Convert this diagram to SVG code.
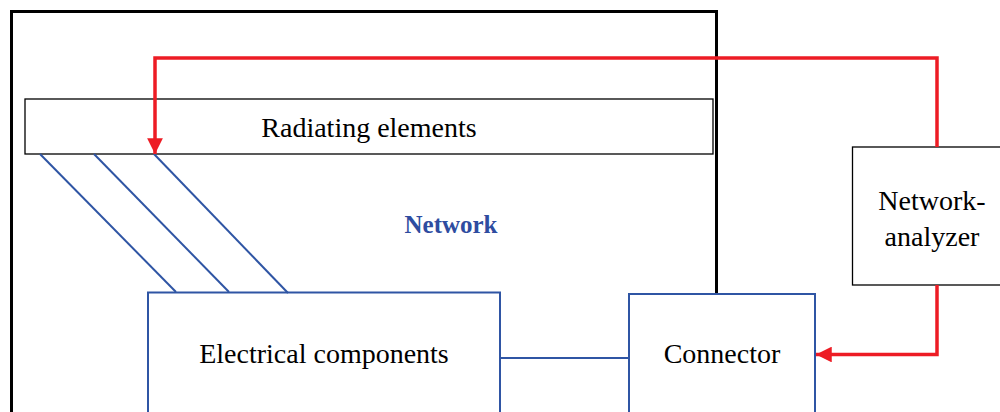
<svg xmlns="http://www.w3.org/2000/svg" width="1000" height="412" viewBox="0 0 1000 412">
<style>
.lbl{font-family:"Liberation Serif","Times New Roman",serif;font-size:28px;fill:#000;text-anchor:middle}
.net{font-family:"Liberation Serif","Times New Roman",serif;font-size:25px;font-weight:bold;fill:#2E4CA0;text-anchor:middle}
.blue{fill:none;stroke:#2F55A4;stroke-width:2}
.thin{fill:#fff;stroke:#000;stroke-width:1.3}
.red{fill:none;stroke:#ED1C24;stroke-width:3.5}
</style>
<defs>
<marker id="ah" viewBox="0 0 10 10" refX="10" refY="5" markerWidth="4.5" markerHeight="4.5" orient="auto" markerUnits="strokeWidth">
<path d="M0,0 L10,5 L0,10 z" fill="#ED1C24"/>
</marker>
</defs>
<rect width="1000" height="412" fill="#fff"/>
<g id="network">
<path d="M11.5,420 V11.5 H716.5 V293" fill="none" stroke="#000" stroke-width="3"/>
<text class="net" x="451" y="233">Network</text>
</g>
<g id="radiating">
<rect class="thin" x="25" y="99" width="688" height="55"/>
<text class="lbl" x="369" y="137">Radiating elements</text>
</g>
<g id="electrical">
<rect class="blue" x="148" y="292.5" width="352" height="140"/>
<text class="lbl" x="324" y="363">Electrical components</text>
</g>
<g id="connector">
<rect class="blue" x="629" y="294" width="186" height="140"/>
<text class="lbl" x="722" y="363">Connector</text>
</g>
<g id="analyzer">
<rect class="thin" x="852.5" y="147" width="160" height="138"/>
<text class="lbl" x="932" y="210">Network-</text>
<text class="lbl" x="932" y="246">analyzer</text>
</g>
<g id="connectors">
<line class="blue" x1="40" y1="154" x2="176" y2="292"/>
<line class="blue" x1="94" y1="154" x2="229" y2="292"/>
<line class="blue" x1="154" y1="154" x2="288" y2="293"/>
<line class="blue" x1="500" y1="358" x2="629" y2="358"/>
<path class="red" d="M937,147 V58 H155 V154" marker-end="url(#ah)"/>
<path class="red" d="M937,285 V354.5 H816" marker-end="url(#ah)"/>
</g>
</svg>
